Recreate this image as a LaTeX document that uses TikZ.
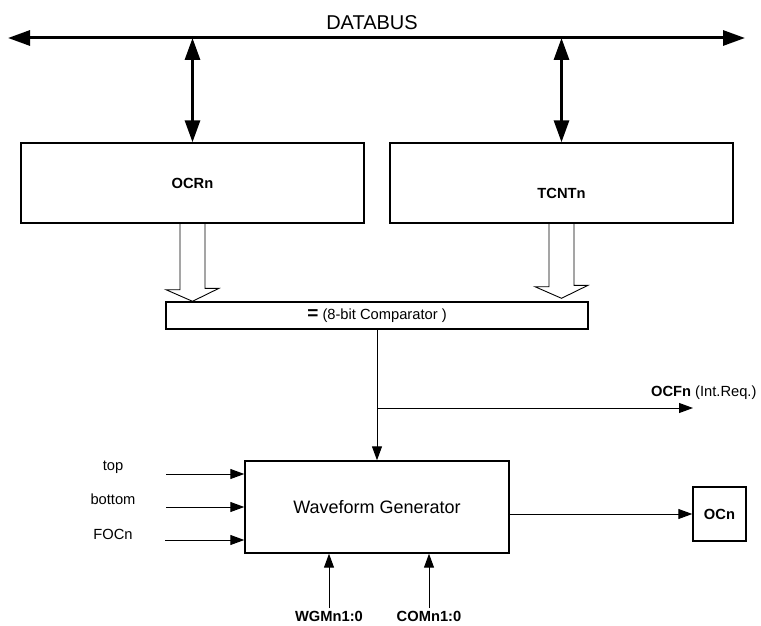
\documentclass[tikz,border=0pt]{standalone}
\usepackage{fontspec}
\setmainfont{Liberation Sans}
\usetikzlibrary{arrows.meta, positioning, calc}

\begin{document}
\begin{tikzpicture}[
    x=1pt, y=-1pt,
    font=\fontsize{14.7pt}{17pt}\selectfont,
    bold/.style={font=\fontsize{14.7pt}{17pt}\selectfont\bfseries},
    block/.style={draw, line width=1.4pt, inner sep=0pt},
    sig/.style={draw, line width=1pt, -{Triangle[length=14pt, width=10pt]}},
    bus/.style={draw, line width=3pt, {Triangle[length=22pt, width=15pt]}-{Triangle[length=22pt, width=15pt]}},
    hollow/.style={draw, line width=0.9pt, line join=miter}
]

% FIXED BOUNDING BOX (same size as the reference)
\path[use as bounding box] (0,0) rectangle (761,626);

% data bus
\node[font=\fontsize{20pt}{24pt}\selectfont] (databus) at (372,23) {DATABUS};
\coordinate (busW) at (8,38);
\coordinate (busE) at (745,38);
\draw[bus] (busW) -- (busE);

% registers
\node[block, bold, minimum width=343pt, minimum height=80pt] (OCRn) at (192.5,183) {OCRn};
\node[block, minimum width=343pt, minimum height=80pt,
      label={[bold, yshift=-10pt]center:TCNTn}] (TCNTn) at (561.5,183) {};

\draw[bus] (OCRn.north |- busW) -- (OCRn.north);
\draw[bus] (TCNTn.north |- busW) -- (TCNTn.north);

% comparator
\node[block, minimum width=422pt, minimum height=27pt] (cmp) at (377,315.5)
    {{\fontsize{19pt}{19pt}\selectfont\bfseries =} (8-bit Comparator )};

\draw[hollow] ($(OCRn.south)+(-12.5,0)$) -- ++(0,66) -- ++(-14,0)
    -- (OCRn.south |- cmp.north) -- ++(26.5,-13) -- ++(-14,0) -- ++(0,-66);
\draw[hollow] ($(TCNTn.south)+(-12.5,0)$) -- ++(0,63) -- ++(-14,0)
    -- ($(TCNTn.south |- cmp.north)+(0,-3)$) -- ++(26.5,-13) -- ++(-14,0) -- ++(0,-63);

% waveform generator
\node[block, minimum width=264pt, minimum height=92pt,
      font=\fontsize{18pt}{21pt}\selectfont] (WG) at (377,507) {Waveform Generator};
\node[block, bold, minimum width=53pt, minimum height=54pt] (OCn) at (719.5,514) {OCn};

\coordinate (split) at (377,408);
\coordinate (ocf) at (693,408);
\draw[sig] (cmp.south) -- (WG.north);
\draw[sig] (split) -- (ocf);
\node[anchor=east] (ocflbl) at (760,393) {\textbf{OCFn} (Int.Req.)};

\draw[sig] (WG.east |- OCn.west) -- (OCn.west);

% inputs on the left
\node (toplbl) at (113,467) {top};
\node (botlbl) at (113,499) {bottom};
\node (foclbl) at (113,534) {FOCn};
\coordinate (topsrc) at (166,474);
\coordinate (botsrc) at (166,507);
\coordinate (focsrc) at (165,540);
\draw[sig] (topsrc) -- (topsrc -| WG.west);
\draw[sig] (botsrc) -- (botsrc -| WG.west);
\draw[sig] (focsrc) -- (focsrc -| WG.west);

% inputs from below
\node[bold, anchor=north] (wgm) at (329,608) {WGMn1:0};
\node[bold, anchor=north] (com) at (429,608) {COMn1:0};
\draw[sig] (wgm.north) -- (wgm.north |- WG.south);
\draw[sig] (com.north) -- (com.north |- WG.south);

\end{tikzpicture}
\end{document}
